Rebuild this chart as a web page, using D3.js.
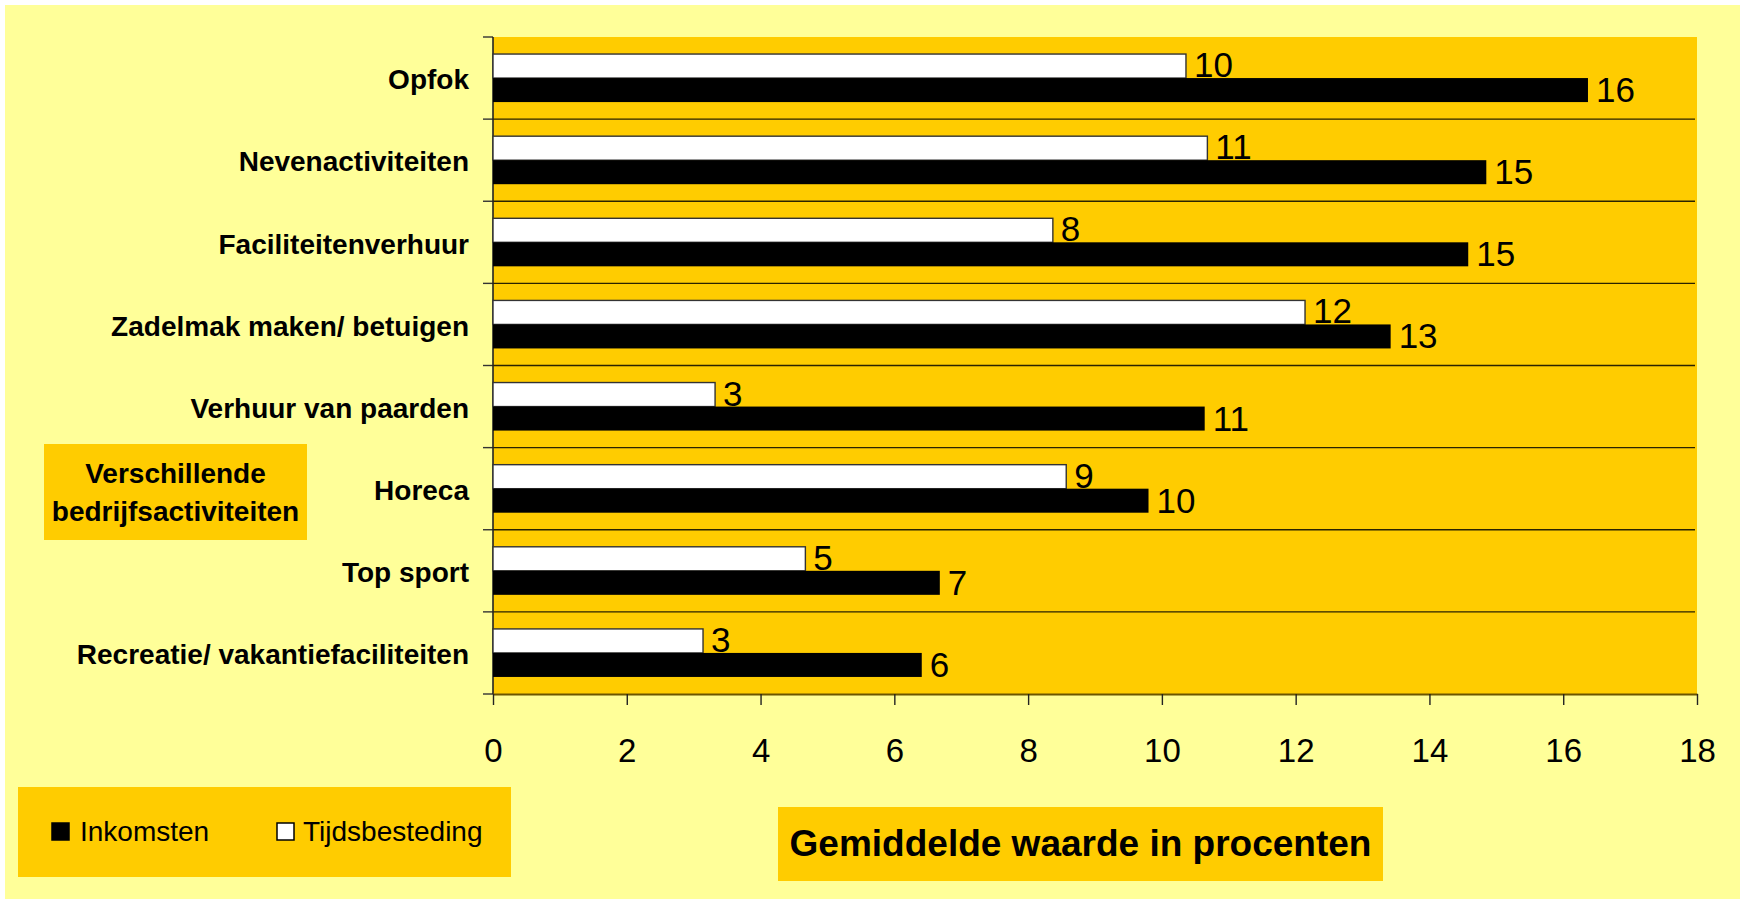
<!DOCTYPE html>
<html>
<head>
<meta charset="utf-8">
<script src="https://cdn.jsdelivr.net/npm/d3@7"></script>
<style>
  html, body { margin: 0; padding: 0; background: #ffffff; }
  svg { display: block; }
  text { font-family: "Liberation Sans", Arial, sans-serif; fill: #000; }
</style>
</head>
<body>
<svg id="chart" width="1740" height="899"></svg>
<script>
const categories = [
  "Opfok",
  "Nevenactiviteiten",
  "Faciliteitenverhuur",
  "Zadelmak maken/ betuigen",
  "Verhuur van paarden",
  "Horeca",
  "Top sport",
  "Recreatie/ vakantiefaciliteiten"
];
const tijdsbesteding = [10.36, 10.68, 8.37, 12.14, 3.32, 8.57, 4.67, 3.14];
const inkomsten      = [16.37, 14.85, 14.58, 13.42, 10.64, 9.80, 6.68, 6.41];
const seriesNames = ["Inkomsten", "Tijdsbesteding"];
const xTicks = [0, 2, 4, 6, 8, 10, 12, 14, 16, 18];
const yAxisTitle = ["Verschillende", "bedrijfsactiviteiten"];
const xAxisTitle = "Gemiddelde waarde in procenten";

const svg = d3.select("#chart");
const W = 1740, H = 899;
const plot = { left: 493, right: 1697, top: 37, bottom: 694 };

// page background
svg.append("rect").attr("x", 5).attr("y", 5).attr("width", W - 5).attr("height", H - 5).attr("fill", "#FFFF99");

// plot area
svg.append("rect").attr("x", plot.left).attr("y", plot.top)
  .attr("width", plot.right - plot.left).attr("height", plot.bottom - plot.top).attr("fill", "#FFCC00");

const x = d3.scaleLinear().domain([0, 18]).range([plot.left, plot.right]);
const y = d3.scaleBand().domain(categories).range([plot.top, plot.bottom]).paddingInner(0).paddingOuter(0);
const sub = d3.scaleBand().domain(["Tijdsbesteding", "Inkomsten"]).range([0, y.bandwidth()]).paddingInner(0).paddingOuter(0.71);

// separator lines between categories
const bounds = categories.map(c => y(c) + y.bandwidth()).slice(0, -1);
svg.append("g").selectAll("line").data(bounds).join("line")
  .attr("x1", plot.left).attr("x2", plot.right - 2)
  .attr("y1", d => d).attr("y2", d => d)
  .attr("stroke", "#2a2200").attr("stroke-width", 1.4);

// left ticks at band boundaries
const allBounds = [plot.top].concat(categories.map(c => y(c) + y.bandwidth()));
svg.append("g").selectAll("line").data(allBounds).join("line")
  .attr("x1", plot.left - 10).attr("x2", plot.left)
  .attr("y1", d => d).attr("y2", d => d)
  .attr("stroke", "#333").attr("stroke-width", 1.4);

// vertical axis line
svg.append("line").attr("x1", plot.left).attr("x2", plot.left)
  .attr("y1", plot.top).attr("y2", plot.bottom)
  .attr("stroke", "#222").attr("stroke-width", 1.6);

const data = categories.map((c, i) => ({ c, t: tijdsbesteding[i], k: inkomsten[i] }));

// white bars (Tijdsbesteding)
svg.append("g").selectAll("rect").data(data).join("rect")
  .attr("x", x(0))
  .attr("y", d => y(d.c) + sub("Tijdsbesteding"))
  .attr("width", d => x(d.t) - x(0))
  .attr("height", sub.bandwidth())
  .attr("fill", "#ffffff").attr("stroke", "#333").attr("stroke-width", 1.4);

svg.append("g").selectAll("text").data(data).join("text")
  .attr("x", d => x(d.t) + 8)
  .attr("y", d => y(d.c) + sub("Tijdsbesteding") + sub.bandwidth() - 1)
  .attr("font-size", 35)
  .text(d => Math.round(d.t));

// black bars (Inkomsten)
svg.append("g").selectAll("rect").data(data).join("rect")
  .attr("x", x(0))
  .attr("y", d => y(d.c) + sub("Inkomsten"))
  .attr("width", d => x(d.k) - x(0))
  .attr("height", sub.bandwidth())
  .attr("fill", "#000000");

svg.append("g").selectAll("text").data(data).join("text")
  .attr("x", d => x(d.k) + 8)
  .attr("y", d => y(d.c) + sub("Inkomsten") + sub.bandwidth())
  .attr("font-size", 35)
  .text(d => Math.round(d.k));

// x axis
const xAxis = d3.axisBottom(x).tickValues(xTicks).tickSize(11).tickSizeOuter(0).tickPadding(34).tickFormat(d3.format("d"));
const gx = svg.append("g").attr("transform", `translate(0,${plot.bottom})`).call(xAxis);
gx.select(".domain").attr("stroke", "#6b5500").attr("stroke-width", 2.2);
gx.selectAll(".tick line").attr("stroke", "#222").attr("stroke-width", 1.4);
gx.selectAll(".tick text").attr("font-size", 33).attr("font-family", "Liberation Sans, Arial, sans-serif").attr("fill", "#000");

// y axis category labels
const yAxis = d3.axisLeft(y).tickSize(0).tickPadding(24);
const gy = svg.append("g").attr("transform", `translate(${plot.left},0)`).call(yAxis);
gy.select(".domain").remove();
gy.selectAll(".tick text").attr("font-size", 28).attr("font-weight", "bold")
  .attr("font-family", "Liberation Sans, Arial, sans-serif").attr("fill", "#000").attr("dy", "0.4em");

// y axis title box
svg.append("rect").attr("x", 44).attr("y", 444).attr("width", 263).attr("height", 96).attr("fill", "#FFCC00");
svg.append("g").selectAll("text").data(yAxisTitle).join("text")
  .attr("x", 175.5).attr("y", (d, i) => 483 + i * 38)
  .attr("text-anchor", "middle").attr("font-size", 28).attr("font-weight", "bold")
  .text(d => d);

// legend
svg.append("rect").attr("x", 18).attr("y", 787).attr("width", 493).attr("height", 90).attr("fill", "#FFCC00");
const legendItems = [
  { name: seriesNames[0], fill: "#000", sx: 52, tx: 80 },
  { name: seriesNames[1], fill: "#fff", sx: 277, tx: 303 }
];
svg.append("g").selectAll("rect").data(legendItems).join("rect")
  .attr("x", d => d.sx).attr("y", 823).attr("width", 17).attr("height", 17)
  .attr("fill", d => d.fill).attr("stroke", "#000").attr("stroke-width", 1.5);
svg.append("g").selectAll("text").data(legendItems).join("text")
  .attr("x", d => d.tx).attr("y", 841).attr("font-size", 28)
  .text(d => d.name);

// x axis title box
svg.append("rect").attr("x", 778).attr("y", 807).attr("width", 605).attr("height", 74).attr("fill", "#FFCC00");
svg.append("text").attr("x", 1080.5).attr("y", 856).attr("text-anchor", "middle")
  .attr("font-size", 37).attr("font-weight", "bold").text(xAxisTitle);
</script>
</body>
</html>
